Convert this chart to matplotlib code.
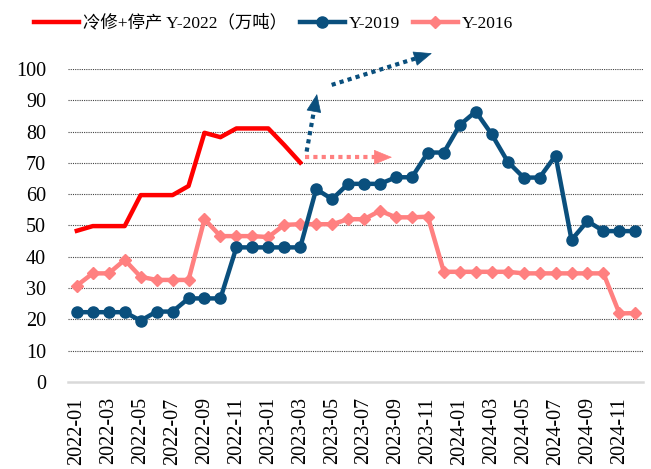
import matplotlib
matplotlib.use("Agg")
import matplotlib.pyplot as plt
from matplotlib.patches import ArrowStyle
import numpy as np

plt.rcParams['font.family'] = ['Liberation Serif', 'Noto Sans CJK SC']

months = [f"{y}-{m:02d}" for y in (2022, 2023, 2024) for m in range(1, 13)]

y2022 = [48.3, 49.8, 49.8, 49.8, 59.7, 59.7, 59.7, 62.6, 79.6, 78.2, 81.0, 81.0,
         81.0, 75.7, 70.1]
y2019 = [22.3, 22.3, 22.3, 22.3, 19.6, 22.5, 22.5, 26.7, 26.7, 26.7, 43.0, 43.0,
         43.0, 43.0, 43.0, 61.6, 58.4, 63.3, 63.3, 63.3, 65.4, 65.4, 73.3, 73.3,
         82.1, 86.4, 79.1, 70.4, 65.3, 65.3, 72.3, 45.4, 51.4, 48.2, 48.2, 48.2]
y2016 = [30.8, 34.7, 34.7, 39.0, 33.6, 32.6, 32.6, 32.6, 52.0, 46.6, 46.6, 46.6,
         46.3, 50.2, 50.4, 50.4, 50.4, 52.0, 52.0, 54.7, 52.6, 52.6, 52.8, 35.2,
         35.2, 35.2, 35.2, 35.2, 34.7, 34.7, 34.7, 34.7, 34.7, 34.7, 21.9, 22.0]

label2022 = "冷修+停产 Y-2022（万吨）"
label2019 = "Y-2019"
label2016 = "Y-2016"

red = "#FF0000"
blue = "#0A4F7D"
pink = "#FF8080"

fig = plt.figure(figsize=(6.51, 4.69), dpi=100)
ax = fig.add_axes([0.105, 0.1855, 0.882, 0.6675])

x = np.arange(len(months))
ax.plot(x[:len(y2022)], y2022, color=red, lw=3.2, label=label2022, zorder=4)
ax.plot(x, y2019, color=blue, lw=3.2, marker='o', markersize=8, label=label2019, zorder=3)
ax.plot(x, y2016, color=pink, lw=3.2, marker='D', markersize=6, label=label2016, zorder=2)

ax.set_xlim(-0.53, 35.45)
ax.set_ylim(0, 100)


def darrow(x0, y0, x1, y1, c):
    head_len_pt = 12.0
    p0 = ax.transData.transform((x0, y0))
    p1 = ax.transData.transform((x1, y1))
    d = p1 - p0
    L = np.hypot(*d)
    u = d / L
    head_px = head_len_pt * fig.dpi / 72.0
    pb = p1 - u * head_px * 0.9
    xb, yb = ax.transData.inverted().transform(pb)
    ax.plot([x0, xb], [y0, yb], color=c, lw=3.0, linestyle=(0, (1, 1)),
            dash_capstyle='butt', clip_on=False, zorder=5)
    ax.annotate("", xy=(x1, y1), xytext=(-u[0] * head_len_pt, -u[1] * head_len_pt),
                textcoords='offset points', annotation_clip=False,
                arrowprops=dict(arrowstyle=ArrowStyle('-|>', head_length=0.8, head_width=0.33),
                                mutation_scale=15, color=c, lw=0.5,
                                shrinkA=0, shrinkB=0), zorder=6)


darrow(14.4, 73.6, 15.05, 92.0, blue)
darrow(15.97, 94.9, 22.25, 105.0, blue)
darrow(14.3, 71.8, 19.75, 71.8, pink)

ax.set_yticks(np.arange(0, 101, 10))
ax.set_xticks(x[::2])
ax.set_xticklabels(months[::2], rotation=90)
ax.tick_params(axis='both', length=0, labelsize=14.5)
ax.tick_params(axis='y', pad=16)
ax.tick_params(axis='x', pad=11)

for s in ax.spines.values():
    s.set_visible(False)
for v in range(10, 101, 10):
    ax.axhline(v, color='#444444', lw=0.8, linestyle=(0, (1, 1)), zorder=1)
ax.axhline(0, color='#D9D9D9', lw=1.8, zorder=1, clip_on=False)

leg = fig.legend(loc='center', bbox_to_anchor=(0.42, 0.95), ncol=3, frameon=False,
                 fontsize=12.5, handlelength=2.6, handletextpad=0.2,
                 columnspacing=0.75)

fig.savefig("out.png", dpi=100)
